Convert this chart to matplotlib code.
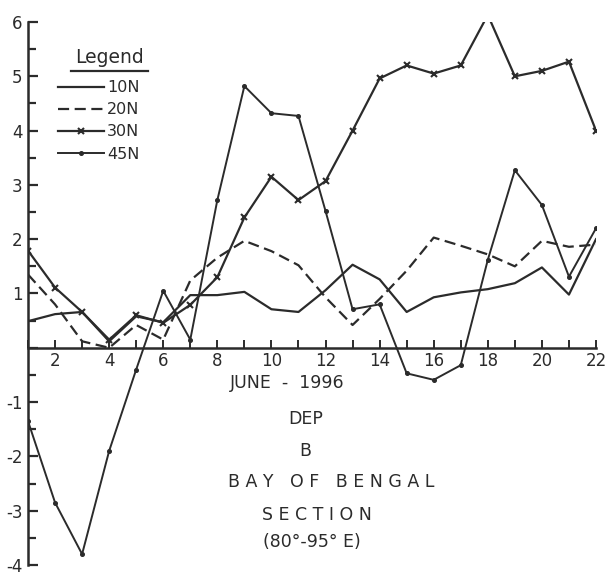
import numpy as np
import matplotlib
matplotlib.use("Agg")
import matplotlib.pyplot as plt
from matplotlib.ticker import FixedLocator, FixedFormatter, NullFormatter

# Departures along the Bay of Bengal section, June 1996 (days 1..22)
days = np.arange(1, 23)
dep_10n = [0.49, 0.62, 0.66, 0.12, 0.58, 0.47, 0.97, 0.97, 1.03, 0.71, 0.66,
           1.06, 1.53, 1.26, 0.66, 0.93, 1.02, 1.08, 1.19, 1.48, 0.98, 2.0]
dep_20n = [1.35, 0.8, 0.12, 0.0, 0.42, 0.15, 1.24, 1.66, 1.97, 1.78, 1.52,
           0.93, 0.42, 0.9, 1.42, 2.03, 1.88, 1.72, 1.5, 1.97, 1.86, 1.9]
dep_30n = [1.79, 1.11, 0.66, 0.15, 0.6, 0.46, 0.79, 1.3, 2.4, 3.15, 2.72,
           3.07, 4.0, 4.96, 5.2, 5.05, 5.2, 6.13, 5.0, 5.1, 5.27, 4.0]
dep_45n = [-1.35, -2.85, -3.8, -1.9, -0.4, 1.05, 0.15, 2.72, 4.82, 4.32, 4.27,
           2.52, 0.71, 0.8, -0.47, -0.59, -0.32, 1.62, 3.27, 2.63, 1.31, 2.2]

INK = "#2b2b2b"

fig = plt.figure(figsize=(6.06, 5.76), dpi=100)
ax = fig.add_axes([28 / 606, 1 - 565 / 576, 568 / 606, 543 / 576])

lw = 1.6
ax.plot(days, dep_10n, color=INK, lw=lw, label="10N")
ax.plot(days, dep_20n, color=INK, lw=lw, ls=(0, (5, 2.5)), label="20N")
ax.plot(days, dep_30n, color=INK, lw=lw, marker="x", ms=5, mew=1.5, label="30N")
ax.plot(days, dep_45n, color=INK, lw=1.4, marker="o", ms=2.6, label="45N")

ax.set_xlim(1, 22)
ax.set_ylim(-4, 6)

for s in ("top", "right"):
    ax.spines[s].set_visible(False)
ax.spines["bottom"].set_position(("data", 0))
for s in ("left", "bottom"):
    ax.spines[s].set_color(INK)
    ax.spines[s].set_linewidth(1.8)

yt = list(range(-4, 7))
ax.yaxis.set_major_locator(FixedLocator(yt))
ax.yaxis.set_major_formatter(FixedFormatter([str(v) if v != 0 else "" for v in yt]))
ax.yaxis.set_minor_locator(FixedLocator(np.arange(-3.5, 6, 1.0)))
ax.xaxis.set_major_locator(FixedLocator(range(2, 23, 2)))
ax.xaxis.set_minor_locator(FixedLocator(range(1, 23, 2)))
ax.xaxis.set_minor_formatter(NullFormatter())

ax.tick_params(axis="y", which="both", direction="in", color=INK, width=1.6,
               labelsize=12, labelcolor=INK, pad=4)
ax.tick_params(axis="y", which="major", length=7)
ax.tick_params(axis="y", which="minor", length=6)
ax.tick_params(axis="x", which="both", direction="in", length=6, color=INK,
               width=1.4, labelsize=12, labelcolor=INK, pad=3)

leg = ax.legend(loc="upper left", bbox_to_anchor=(0.053, 0.893), frameon=False,
                fontsize=11.5, handlelength=2.9, handletextpad=0.15,
                labelspacing=0.45, borderpad=0, borderaxespad=0)
for t in leg.get_texts():
    t.set_color(INK)

ax.text(0.144, 0.934, "Legend", transform=ax.transAxes, ha="center",
        va="center", fontsize=13.5, color=INK)
ax.plot([0.076, 0.211], [0.91, 0.91], transform=ax.transAxes, color=INK,
        lw=1.6, clip_on=False)

cap = dict(ha="center", va="center", fontsize=12.5, color=INK)
ax.text(10.57, -0.64, "JUNE  -  1996", **cap)
ax.text(11.28, -1.31, "DEP", **cap)
ax.text(11.24, -1.9, "B", **cap)
ax.text(12.2, -2.48, "B A Y   O F   B E N G A L", **cap)
ax.text(11.7, -3.07, "S E C T I O N", **cap)
ax.text(11.5, -3.58, "(80°-95° E)", **cap)

fig.savefig("out.png", dpi=100)
